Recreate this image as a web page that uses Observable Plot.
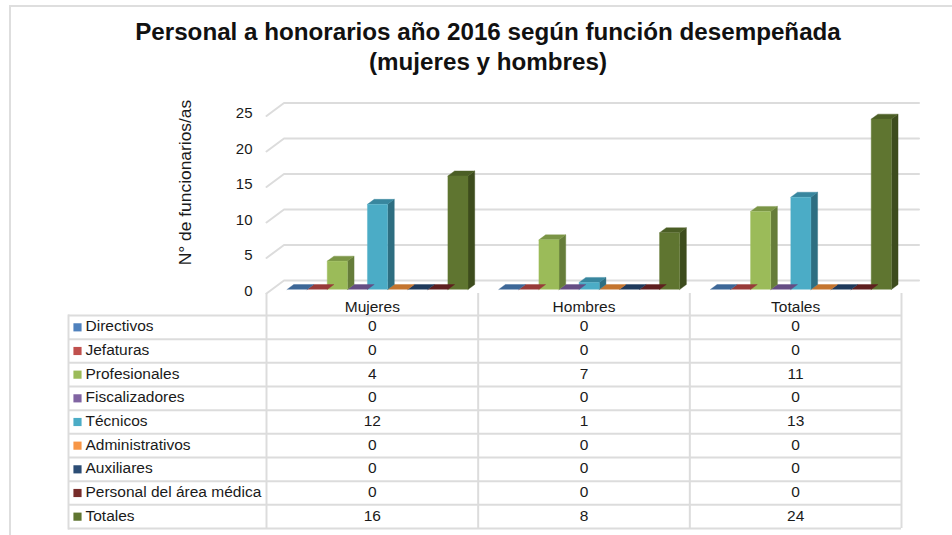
<!DOCTYPE html>
<html lang="es">
<head>
<meta charset="utf-8">
<script src="https://cdn.jsdelivr.net/npm/d3@7"></script>
<script src="https://cdn.jsdelivr.net/npm/@observablehq/plot@0.6"></script>
<style>
html,body{margin:0;padding:0;background:#fff;overflow:hidden;width:952px;height:535px}
#border{position:absolute;left:9px;top:5px;right:-4px;bottom:-4px;border:2px solid #dedede;box-sizing:border-box}
#title{position:absolute;left:24px;top:17px;width:928px;text-align:center;font:bold 24.2px/30px "Liberation Sans",Arial,sans-serif;color:#111}
#chart{position:absolute;left:0;top:90px}
#table{position:absolute;left:0;top:293px}
svg{display:block}
</style>
</head>
<body>
<div id="border"></div>
<div id="title">Personal a honorarios año 2016 según función desempeñada<br>(mujeres y hombres)</div>
<div id="chart"></div>
<div id="table"></div>
<script>
const groups = ["Mujeres", "Hombres", "Totales"];
const funciones = ["Directivos", "Jefaturas", "Profesionales", "Fiscalizadores", "Técnicos", "Administrativos", "Auxiliares", "Personal del área médica", "Totales"];
const mujeres = [0, 0, 4, 0, 12, 0, 0, 0, 16];
const hombres = [0, 0, 7, 0, 1, 0, 0, 0, 8];
const totales = [0, 0, 11, 0, 13, 0, 0, 0, 24];
const yTicks = [0, 5, 10, 15, 20, 25];
const frontColors = ["#4F81BD", "#C0504D", "#9BBB59", "#8064A2", "#4BACC6", "#F79646", "#2C4D75", "#772C2A", "#5F7530"];
const topColors = ["#3d6797", "#983b39", "#7b9546", "#654d84", "#38869e", "#c4752f", "#1f3a5c", "#5f1f1f", "#4b5e25"];
const sideColors = ["#30507a", "#7b2f2d", "#667d3a", "#523e6d", "#2e6e81", "#a05f26", "#182e4a", "#4d1a1a", "#3d4c1d"];
const values = [mujeres, hombres, totales];

const FONT = '"Liberation Sans", Arial, sans-serif';
const INK = "#1a1a1a", LINE = "#dcdcdc";

// Depth of the pseudo-3D drawing, in scale units
const slot = 0.095, start = 0.097, barDx = 0.0317, barDy = 0.7;
const wallDx = 0.0827, wallBack = 1.27, wallFront = -0.56;

// Build the faces, right-most bar first so each bar covers its right neighbour
const faces = [];
groups.forEach((g, gi) => {
  for (let s = funciones.length - 1; s >= 0; s--) {
    const v = values[gi][s];
    const x0 = gi + start + s * slot, x1 = x0 + slot;
    const id = g + s;
    if (v > 0) {
      faces.push(...[[x1, 0], [x1 + barDx, barDy], [x1 + barDx, v + barDy], [x1, v]].map(([x, y]) => ({face: id + "side", x, y, c: sideColors[s]})));
    }
    faces.push(...[[x0, v], [x0 + barDx, v + barDy], [x1 + barDx, v + barDy], [x1, v]].map(([x, y]) => ({face: id + "top", x, y, c: topColors[s]})));
    if (v > 0) {
      faces.push(...[[x0, 0], [x0, v], [x1, v], [x1, 0]].map(([x, y]) => ({face: id + "front", x, y, c: frontColors[s]})));
    }
  }
});

const wallLines = yTicks.flatMap(t => [
  {t, x: 0, y: t + wallFront},
  {t, x: wallDx, y: t + wallBack},
  {t, x: 3 + wallDx, y: t + wallBack}
]);

const chart = Plot.plot({
  width: 952, height: 212,
  marginLeft: 266, marginRight: 51, marginTop: 0, marginBottom: 28,
  style: {fontFamily: FONT, color: INK, background: "transparent"},
  x: {domain: [0, 3], range: [266, 901], axis: null},
  y: {domain: [0, 25], range: [199, 21.5]},
  color: {type: "identity"},
  marks: [
    Plot.line(wallLines, {x: "x", y: "y", z: "t", stroke: LINE, strokeWidth: 2}),
    Plot.line(faces, {x: "x", y: "y", z: "face", fill: "c", stroke: "c", strokeWidth: 0.4}),
    Plot.axisY({ticks: yTicks, tickSize: 0, tickPadding: 14, fontSize: 15, dy: 1.5, label: null}),
    Plot.text(["N° de funcionarios/as"], {
      frameAnchor: "left", textAnchor: "middle", rotate: -90, dx: -81, dy: 0,
      text: d => d, fontSize: 17.4, fill: INK
    })
  ]
});
document.getElementById("chart").append(chart);

const rowIdx = funciones.map((f, i) => i);
const cells = groups.flatMap((g, gi) => funciones.map((f, i) => ({gi, i, v: values[gi][i]})));
const TXT = {fontSize: 15.5, fill: INK};

const table = Plot.plot({
  width: 952, height: 242,
  marginLeft: 68, marginRight: 51, marginTop: 22, marginBottom: 7,
  style: {fontFamily: FONT, color: INK, background: "transparent"},
  x: {domain: [0, 3], range: [266, 901], axis: null},
  y: {domain: [0, 9], range: [22, 235], axis: null},
  color: {type: "identity"},
  marks: [
    Plot.ruleY(d3.range(0, funciones.length + 1), {stroke: LINE, strokeWidth: 2}),
    Plot.ruleX(d3.range(0, groups.length + 1), {y1: -0.93, y2: 9, stroke: LINE, strokeWidth: 2}),
    Plot.frame({anchor: "left", stroke: LINE, strokeWidth: 2}),
    Plot.dot(rowIdx, {y: i => i + 0.5, frameAnchor: "left", dx: 9, symbol: "square", r: 4.6, fill: i => frontColors[i], stroke: "none"}),
    Plot.text(rowIdx, {y: i => i + 0.5, dy: -1, text: i => funciones[i], frameAnchor: "left", dx: 17, textAnchor: "start", ...TXT}),
    Plot.text(groups, {x: (g, i) => i + 0.5, y: () => -0.5, text: g => g, dy: 3, ...TXT}),
    Plot.text(cells, {x: d => d.gi + 0.5, y: d => d.i + 0.5, dy: -1, text: d => String(d.v), ...TXT})
  ]
});
document.getElementById("table").append(table);
</script>
</body>
</html>
